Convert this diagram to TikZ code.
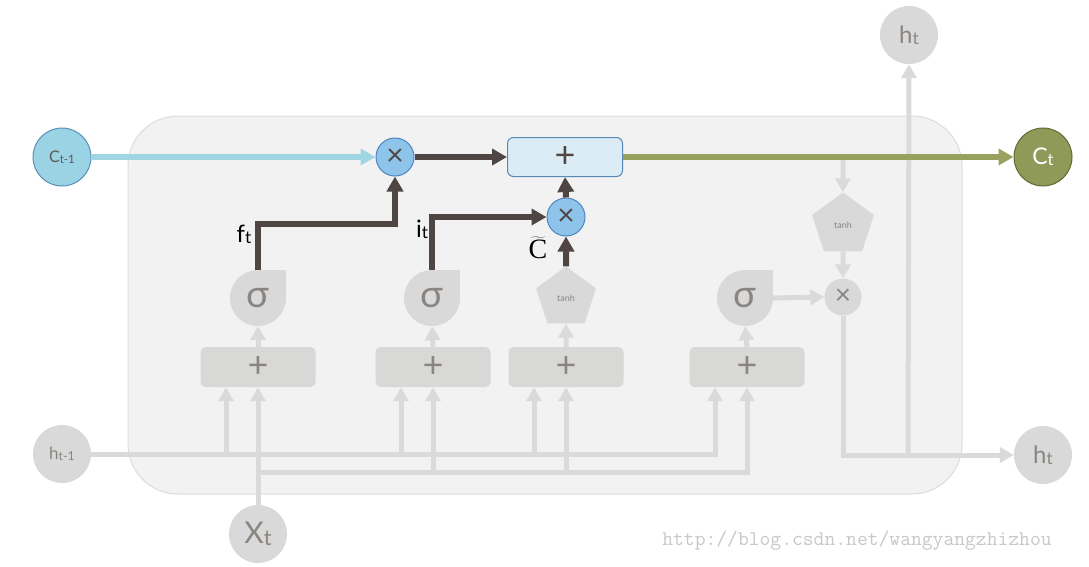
\documentclass[tikz,border=0pt]{standalone}
\usepackage{fontspec}
\setmainfont{Lato}
\newfontfamily\serifC{Liberation Serif}
\usetikzlibrary{arrows.meta,shapes.geometric}

\definecolor{cellbg}{HTML}{F2F2F2}
\definecolor{cellborder}{HTML}{DCDCDC}
\definecolor{gatefill}{HTML}{D9D9D9}
\definecolor{boxfill}{HTML}{D8D8D6}
\definecolor{graytext}{HTML}{8A8580}
\definecolor{wire}{HTML}{DADADA}
\definecolor{darkwire}{HTML}{4F4542}
\definecolor{bluewire}{HTML}{9FD6E4}
\definecolor{cfill}{HTML}{9AD3E4}
\definecolor{cborder}{HTML}{5B8FB5}
\definecolor{multfill}{HTML}{8FC4EA}
\definecolor{multborder}{HTML}{4F86C0}
\definecolor{addfill}{HTML}{DBECF6}
\definecolor{addborder}{HTML}{5889B6}
\definecolor{greenwire}{HTML}{98A25E}
\definecolor{ctfill}{HTML}{8F9A58}
\definecolor{ctborder}{HTML}{5F6B37}
\definecolor{urlgray}{HTML}{C8C8C8}

\newcommand{\lbl}[2]{#1\raisebox{-0.05em}{\scalebox{0.72}{#2}}}

\tikzset{
  grayline/.style={draw=wire, line width=5pt},
  grayarrow/.style={grayline, -{Triangle[length=14pt,width=15pt]}},
  darkarrow/.style={draw=darkwire, line width=6pt, -{Triangle[length=15pt,width=16pt]}},
  graycircle/.style={circle, fill=gatefill, minimum size=58pt, inner sep=0pt, text=graytext},
  sigmagate/.style={circle, fill=gatefill, minimum size=56pt, inner sep=0pt, text=graytext, font=\fontsize{38}{38}\selectfont},
  tanhgate/.style={regular polygon, regular polygon sides=5, fill=gatefill, minimum size=63pt, inner sep=0pt, text=graytext, font=\fontsize{9}{9}\selectfont},
  graybox/.style={rectangle, rounded corners=5pt, fill=boxfill, minimum width=115pt, minimum height=40pt, inner sep=0pt, text=graytext, font=\fontsize{36}{36}\selectfont},
  bluemult/.style={circle, fill=multfill, draw=multborder, line width=1pt, minimum size=38pt, inner sep=0pt, text=darkwire, font=\fontsize{30}{30}\selectfont},
  graymult/.style={circle, fill=gatefill, minimum size=37pt, inner sep=0pt, text=graytext, font=\fontsize{28}{28}\selectfont},
  gatelabel/.style={text=black, font=\fontsize{24}{24}\selectfont},
}

\begin{document}
\begin{tikzpicture}[x=1pt,y=-1pt]
  \useasboundingbox (0,0) rectangle (1089,566);
  \fill[white] (0,0) rectangle (1089,566);
  \draw[fill=cellbg, draw=cellborder, line width=1pt, rounded corners=50pt] (128,116) rectangle (962,494);

  % gates
  \foreach \n/\x in {s1/258,s2/432,s3/745}{
    \fill[gatefill] (\x,298) rectangle ++(28,-28);
    \node[sigmagate] (\n) at (\x,298) {σ};
  }
  \node[tanhgate] (tg) at (566,298) {tanh};
  \node[tanhgate, minimum size=65pt] (to) at (843,225) {tanh};
  \node[graymult] (ox) at (843,297) {×};
  \foreach \n/\x in {b1/258,b2/433,b3/566,b4/747}
    \node[graybox] (\n) at (\x,367) {+};

  % inputs and outputs
  \node[graycircle, font=\fontsize{17}{17}\selectfont] (hprev) at (62,454) {\lbl{h}{t-1}};
  \node[graycircle, font=\fontsize{30}{30}\selectfont] (xt) at (258,534) {\lbl{X}{t}};
  \node[graycircle, font=\fontsize{24}{24}\selectfont] (hout) at (1043,455) {\lbl{h}{t}};
  \node[graycircle, font=\fontsize{24}{24}\selectfont] (htop) at (909,35) {\lbl{h}{t}};
  \node[circle, minimum size=58pt, inner sep=0pt, fill=cfill, draw=cborder, line width=1pt, text=darkwire!90, font=\fontsize{16}{16}\selectfont] (cprev) at (62,157) {\lbl{C}{t-1}};
  \node[circle, minimum size=58pt, inner sep=0pt, fill=ctfill, draw=ctborder, line width=1pt, text=white, font=\fontsize{23}{23}\selectfont] (ct) at (1043,157) {\lbl{C}{t}};

  \coordinate (hrail) at (0,454);
  \coordinate (xrail) at (0,472);
  \coordinate (ctap) at (843,157);
  \coordinate (hsplit) at (908,455);

  % gray wiring
  \draw[grayarrow] (hprev.east) -| ([xshift=-32pt]b4.south);
  \foreach \b in {b1,b2,b3}
    \draw[grayarrow] ([xshift=-32pt]\b.south |- hrail) -- ([xshift=-32pt]\b.south);
  \draw[grayarrow] (xt.north) -- (b1.south);
  \draw[grayarrow] (xt.north |- xrail) -| (b4.south);
  \foreach \b in {b2,b3}
    \draw[grayarrow] (\b.south |- xrail) -- (\b.south);
  \draw[grayarrow] (b1.north) -- (s1.south);
  \draw[grayarrow] (b2.north) -- (s2.south);
  \draw[grayarrow] (b3.north) -- (tg.south);
  \draw[grayarrow] (b4.north) -- (s3.south);
  \draw[grayarrow] (s3.east) -- (ox.west);
  \draw[grayarrow] (ctap) -- (to.north);
  \draw[grayarrow] (to.south) -- (ox.north);
  \draw[grayarrow] (ox.south) |- (hout.west);
  \draw[grayarrow] (hsplit) -- (htop.south);

  % cell state
  \node[bluemult] (fx) at (395,157) {×};
  \node[bluemult] (ix) at (566,217) {×};
  \node[rectangle, rounded corners=6pt, fill=addfill, draw=addborder, line width=1pt, minimum width=115pt, minimum height=39pt, inner sep=0pt, text=darkwire, font=\fontsize{36}{36}\selectfont] (add) at (565,157) {+};

  \draw[bluewire, line width=6pt, -{Triangle[length=15pt,width=16pt]}] (cprev) -- (fx);
  \draw[darkarrow] (fx) -- (add);
  \draw[greenwire, line width=6pt, -{Triangle[length=15pt,width=16pt]}] (add) -- (ct);
  \draw[darkarrow] (s1.north) |- (395,224) -- (fx.south);
  \draw[darkarrow] (s2.north) |- (ix.west);
  \draw[darkarrow] (tg.north) -- (ix.south);
  \draw[darkarrow] (ix.north) -- (add.south);

  \node[gatelabel] (flab) at (244,234) {\lbl{f}{t}};
  \node[gatelabel] (ilab) at (422,229) {\lbl{i}{t}};
  \node[text=black, font=\fontsize{28}{28}\selectfont] (clab) at (538,248) {$\widetilde{\hbox{\serifC C}}$};

  \node[text=urlgray, font=\ttfamily\fontsize{21}{21}\selectfont] (url) at (857,541) {http://blog.csdn.net/wangyangzhizhou};
\end{tikzpicture}
\end{document}
